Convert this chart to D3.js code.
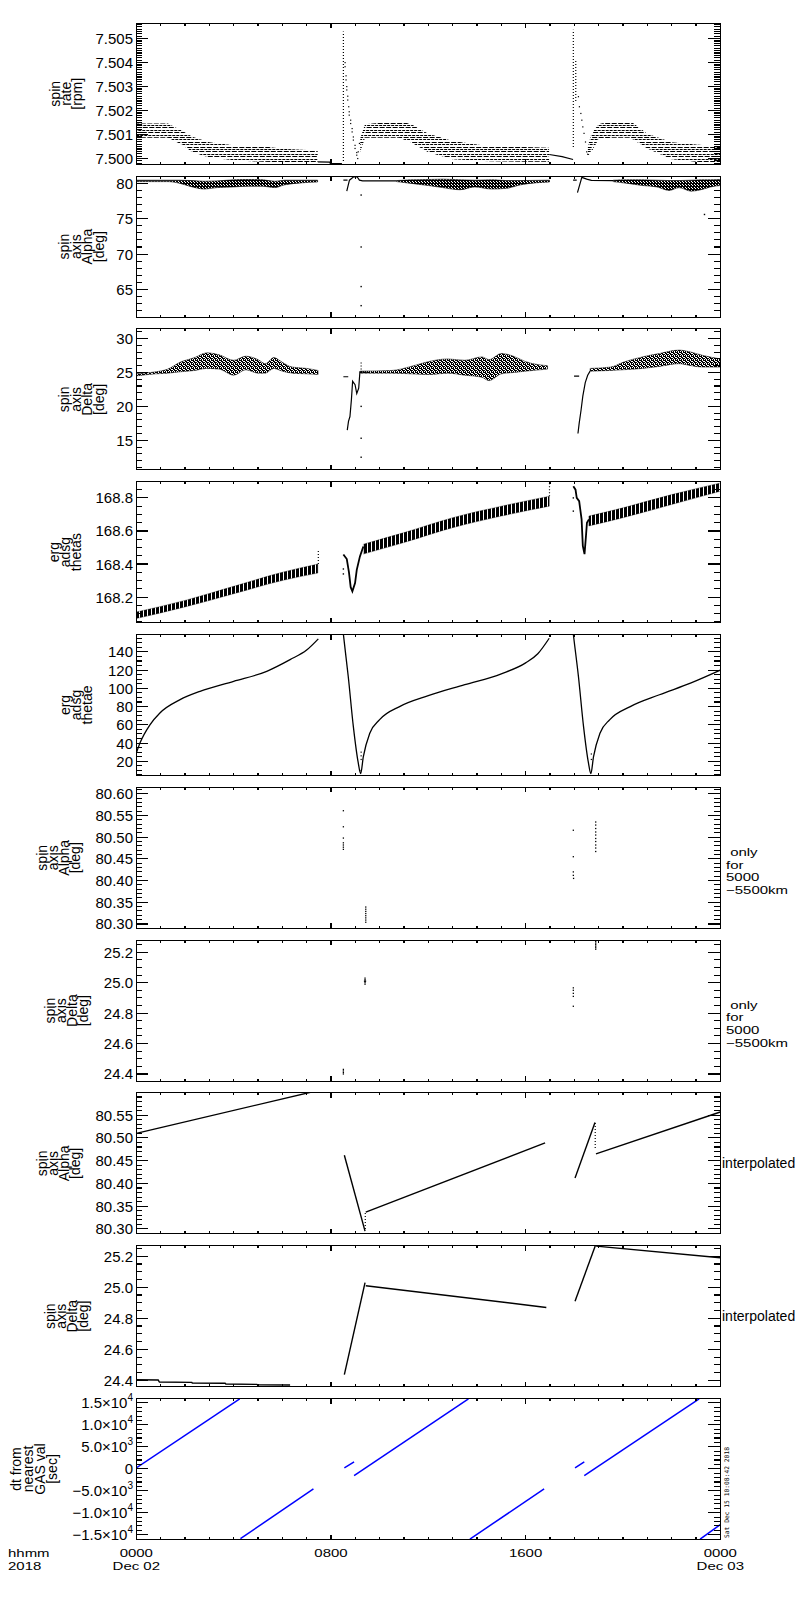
<!DOCTYPE html>
<html><head><meta charset="utf-8">
<script src="https://cdn.jsdelivr.net/npm/d3@7"></script>
<style>body{margin:0;background:#fff} text{font-family:"Liberation Sans",Arial,sans-serif;fill:#000}</style>
</head><body>
<svg id="c" width="800" height="1600" xmlns="http://www.w3.org/2000/svg"></svg>
<script>
// ---------------- DATA (hours since 2018-12-02 00:00) ----------------
const xMajorHours = [0, 8, 16, 24];
const xMajorLabels = ["0000", "0800", "1600", "0000"];
const xDateLabels = ["Dec 02", "", "", "Dec 03"];
const xHourTicks = d3.range(0, 25);

const yTitles = [
  ["spin","rate","[rpm]"],
  ["spin","axis","Alpha","[deg]"],
  ["spin","axis","Delta","[deg]"],
  ["erg","adsg","thetas"],
  ["erg","adsg","thetae"],
  ["spin","axis","Alpha","[deg]"],
  ["spin","axis","Delta","[deg]"],
  ["spin","axis","Alpha","[deg]"],
  ["spin","axis","Delta","[deg]"],
  ["dt from","nearest","GAS val","[sec]"]
];
const rightNotes = [null, null, null, null, null,
  [" only","for","5000","\u22125500km"],
  [" only","for","5000","\u22125500km"],
  ["interpolated"], ["interpolated"], null];
const stampText = "Sat Dec 15 10:08:42 2018";

// Panel 1: spin rate [rpm]  (bands: [hour, low, high])
const rateDomain = [7.49976, 7.50564];
const rateBandA = [[0,7.50090,7.50143],[1.3,7.50090,7.50143],[1.9,7.50060,7.50112],[2.3,7.50030,7.50088],[3.0,7.50008,7.50065],[4.0,7.49996,7.50052],[5.2,7.49990,7.50048],[6.0,7.49988,7.50038],[7.0,7.49986,7.50032],[7.46,7.49986,7.50032]];
const rateLineB = [[7.46,7.49986],[7.95,7.49985],[7.97,7.49980],[8.45,7.49979]];
const rateSpike1Col = [8.51, 7.49990, 7.50530];
const rateSpike1Dots = [[8.58,7.50383],[8.58,7.50400],[8.62,7.50328],[8.62,7.50345],[8.65,7.50286],[8.65,7.50300],[8.69,7.50244],[8.69,7.50260],[8.73,7.50216],[8.75,7.50181],[8.75,7.50195],[8.81,7.50146],[8.81,7.50160],[8.87,7.50111],[8.87,7.50125],[8.92,7.50077],[8.92,7.50090],[8.99,7.50042],[8.99,7.50055],[9.06,7.50014],[9.06,7.50025],[9.10,7.50000],[9.12,7.50028],[9.17,7.50063]];
const rateBandC = [[9.2,7.50030,7.50080],[9.4,7.50090,7.50140],[10.8,7.50090,7.50153],[11.3,7.50070,7.50140],[12.0,7.50030,7.50100],[13.0,7.50000,7.50070],[14.5,7.49992,7.50048],[16.0,7.49990,7.50045],[16.97,7.49990,7.50042]];
const rateLineD = [[16.97,7.50017],[17.5,7.50008],[17.95,7.49996]];
const rateSpike2Col = [17.96, 7.50048, 7.50537];
const rateSpike2Col2 = [18.06, 7.50240, 7.50411];
const rateSpike2Dots = [[18.17,7.50258],[18.21,7.50216],[18.27,7.50188],[18.31,7.50160],[18.35,7.50132],[18.40,7.50105],[18.46,7.50069],[18.51,7.50028],[18.55,7.50018]];
const rateBandE = [[18.55,7.50015,7.50045],[18.7,7.50030,7.50100],[19.0,7.50085,7.50140],[19.5,7.50090,7.50153],[20.3,7.50090,7.50153],[21.0,7.50045,7.50100],[22.0,7.50000,7.50065],[23.0,7.49990,7.50055],[24.0,7.49984,7.50048]];
const rateLevels = d3.range(74998, 75016).map(k => k / 10000);

// Panel 2: spin axis Alpha [deg]
const alphaDomain = [61.08, 81.03];
const alphaBandA = [[0,80.25,80.45],[1.3,80.25,80.45],[1.8,80.0,80.45],[2.3,79.5,80.4],[2.8,79.2,80.3],[3.3,79.4,80.35],[4.0,79.5,80.5],[4.6,79.6,80.55],[5.2,79.6,80.5],[5.7,79.4,80.3],[6.1,79.8,80.45],[7.45,80.2,80.45]];
const alphaE1Dash = [[8.51,80.47],[8.68,80.47]];
const alphaE1Line = [[8.65,78.9],[8.76,80.45],[8.92,80.9],[9.08,80.9],[9.17,80.45],[9.3,80.35],[10.7,80.35]];
const alphaE1Dots = [[9.24,78.35],[9.24,71.0],[9.24,65.4],[9.24,62.7]];
const alphaBandC = [[10.7,80.25,80.4],[11.3,80.0,80.5],[12.0,79.7,80.55],[12.6,79.4,80.6],[13.3,79.1,80.5],[13.9,79.5,80.45],[14.6,79.2,80.5],[15.2,79.3,80.4],[15.8,79.8,80.4],[16.98,80.2,80.45]];
const alphaE2Dash = [[17.95,80.45],[18.1,80.45]];
const alphaE2Line = [[18.13,78.7],[18.31,80.85],[18.51,80.6],[18.7,80.42],[19.6,80.4]];
const alphaBandE = [[19.6,80.25,80.45],[20.2,80.0,80.5],[20.8,79.7,80.5],[21.4,79.5,80.45],[21.9,79.0,80.4],[22.3,79.4,80.4],[22.8,78.9,80.45],[23.2,79.1,80.5],[23.6,79.5,80.5],[24,79.7,80.55]];
const alphaStray = [[23.35,75.6]];

// Panel 3: spin axis Delta [deg]
const deltaDomain = [10.63, 31.43];
const deltaBandA = [[0,24.5,24.8],[0.8,24.8,25.1],[1.3,24.9,25.5],[1.8,25.1,26.5],[2.4,25.3,27.2],[2.9,25.6,27.9],[3.4,25.5,27.6],[4.0,24.6,26.8],[4.5,25.4,27.4],[5.0,24.9,26.9],[5.3,24.9,26.3],[5.65,25.6,27.2],[6.0,25.2,26.5],[6.4,24.9,25.8],[7.0,24.8,25.6],[7.47,24.7,25.3]];
const deltaE1Dash = [[8.51,24.37],[8.71,24.37]];
const deltaE1Line = [[8.67,16.5],[8.72,17.8],[8.78,18.5],[8.84,21.0],[8.89,23.7],[8.99,23.2],[9.06,21.9],[9.14,22.7],[9.19,25.1],[9.6,25.0]];
const deltaE1Col = [9.24, 25.0, 26.7];
const deltaE1Dots = [[9.24,20.0],[9.24,15.3],[9.24,12.5]];
const deltaBandC = [[9.2,24.9,25.2],[10.5,24.9,25.3],[11.3,24.8,25.9],[12.0,24.7,26.6],[12.8,24.9,27.0],[13.5,24.6,26.8],[14.2,24.3,27.3],[14.5,23.8,26.9],[15.0,24.8,27.8],[15.5,25.0,27.4],[16.0,25.2,26.6],[16.9,25.5,26.0]];
const deltaE2Dash = [[17.99,24.45],[18.2,24.45]];
const deltaE2Line = [[18.15,16.0],[18.2,17.5],[18.28,19.5],[18.35,21.5],[18.45,23.5],[18.55,24.6],[18.65,25.2]];
const deltaBandE = [[18.65,25.2,25.6],[19.5,25.3,25.8],[20.0,25.4,26.5],[20.8,25.6,27.3],[21.5,25.9,27.8],[22.3,26.3,28.3],[22.8,26.0,28.0],[23.3,25.8,27.5],[24.0,25.8,27.0]];

// Panel 4: erg adsg thetas
const thetasDomain = [168.045, 168.898];
const thetasBandA = [[0,168.07,168.11],[2,168.14,168.18],[4,168.22,168.265],[6,168.30,168.35],[7.46,168.345,168.40]];
const thetasCol1 = [7.48, 168.40, 168.49];
const thetasE1Line = [[8.51,168.458],[8.65,168.43],[8.74,168.35],[8.81,168.26],[8.88,168.235],[8.99,168.285],[9.06,168.365],[9.19,168.446],[9.33,168.506]];
const thetasE1Dots = [[8.51,168.37],[8.51,168.34]];
const thetasBandC = [[9.33,168.46,168.52],[11,168.53,168.59],[13,168.62,168.68],[15,168.69,168.75],[16.97,168.75,168.81]];
const thetasCol2 = [16.98, 168.81, 168.89];
const thetasE2Line = [[17.96,168.87],[18.05,168.85],[18.1,168.80],[18.2,168.78],[18.3,168.67],[18.35,168.51],[18.42,168.46],[18.48,168.57],[18.52,168.65],[18.6,168.67]];
const thetasE2Dots = [[17.96,168.80],[17.96,168.72]];
const thetasBandE = [[18.6,168.63,168.69],[20,168.68,168.74],[22,168.76,168.82],[24,168.84,168.89]];

// Panel 5: erg adsg thetae
const thetaeDomain = [4.4, 159.1];
const thetaeSeg1 = [[0,29],[0.15,40],[0.56,60],[0.97,73],[1.8,87.6],[2.62,96.8],[4.0,107.7],[5.36,118.7],[6.32,131.5],[7.0,142],[7.48,154.3]];
const thetaeSeg2 = [[8.51,159.5],[8.52,157],[8.71,113],[8.92,58],[9.12,18.4],[9.22,6.4],[9.33,25],[9.6,51],[10.0,65.7],[10.84,80.3],[12.0,92],[13.5,104],[15.0,116],[16.0,128],[16.5,138],[16.97,155]];
const thetaeSeg3 = [[17.96,159.5],[17.98,155],[18.17,113],[18.38,58],[18.58,18.4],[18.68,6.4],[18.79,25],[19.06,51],[19.46,65.7],[20.3,80],[21.5,93],[22.8,106],[24,120]];
const thetaeDots = [[9.24,30],[9.24,26],[9.24,22],[9.24,10],[18.70,28],[18.70,22]];

// Panel 6: spin axis Alpha, only for 5000-5500 km
const alphaSelDomain = [80.290, 80.615];
const alphaSelDots = [[8.51,80.561],[8.51,80.524],[8.51,80.498],[8.51,80.487],[8.51,80.482],[8.51,80.477],[8.51,80.472],
  [9.43,80.339],[9.43,80.334],[9.43,80.329],[9.43,80.324],[9.43,80.319],[9.43,80.314],[9.43,80.309],[9.43,80.304],
  [17.96,80.516],[17.96,80.455],[17.96,80.420],[17.96,80.412],[17.97,80.405],
  [18.88,80.535],[18.88,80.528],[18.88,80.520],[18.88,80.512],[18.88,80.505],[18.88,80.497],[18.88,80.490],[18.88,80.482],[18.88,80.475],[18.88,80.467]];

// Panel 7: spin axis Delta, only for 5000-5500 km
const deltaSelDomain = [24.353, 25.280];
const deltaSelDots = [[8.51,24.43],[8.51,24.42],[8.51,24.41],[8.51,24.40],
  [9.40,25.03],[9.40,25.02],[9.40,25.01],[9.40,25.00],[9.40,24.99],[9.38,25.01],[9.42,25.01],
  [17.96,24.966],[17.96,24.95],[17.96,24.93],[17.96,24.91],[17.96,24.845],
  [18.88,25.27],[18.88,25.26],[18.88,25.25],[18.88,25.24],[18.88,25.23],[18.88,25.22]];

// Panel 8: interpolated Alpha
const alphaIntDomain = [80.289, 80.599];
const alphaIntSegs = [
  [[0,80.510],[7.45,80.604]],
  [[8.55,80.462],[9.40,80.295]],
  [[9.43,80.337],[16.80,80.489]],
  [[18.03,80.412],[18.85,80.534]],
  [[18.89,80.465],[24,80.557]]
];
const alphaIntCols = [[9.41,80.30,80.337],[18.86,80.478,80.534]];

// Panel 9: interpolated Delta
const deltaIntDomain = [24.359, 25.268];
const deltaIntSegs = [
  [[0,24.404],[0.9,24.402],[0.95,24.389],[2.28,24.387],[2.3,24.383],[3.65,24.381],[3.68,24.376],[4.95,24.374],[4.98,24.372],[6.32,24.370]],
  [[8.55,24.437],[9.40,25.03]],
  [[9.43,25.010],[16.85,24.87]],
  [[18.03,24.91],[18.88,25.275]],
  [[18.9,25.265],[24,25.19]]
];

// Panel 10: dt from nearest GAS val [sec]
const dtDomain = [-16100, 16000];
const dtSegs = [
  [[0,200],[4.25,15900]],
  [[4.28,-15900],[7.28,-4600]],
  [[8.55,200],[8.95,1570]],
  [[8.95,-1550],[13.65,15900]],
  [[13.71,-16000],[16.76,-4600]],
  [[18.03,200],[18.41,1570]],
  [[18.41,-1550],[23.13,15900]],
  [[23.17,-16000],[24,-12700]]
];

// ---------------- LAYOUT ----------------
const X0 = 136.3, X1 = 720.3, TOP0 = 23.3, PITCH = 152.8, PH = 141;
const svg = d3.select("#c");
const defs = svg.append("defs");
const x = d3.scaleLinear().domain([0, 24]).range([X0, X1]);

function ticksFor(domain, step) {
  const lo = Math.ceil(domain[0] / step - 1e-6), hi = Math.floor(domain[1] / step + 1e-6);
  return d3.range(lo, hi + 1).map(k => k * step);
}
function drawLine(g, y, pts, color, w, curve) {
  const ln = d3.line().x(d => x(d[0])).y(d => y(d[1]));
  if (curve) ln.curve(curve);
  g.append("path").attr("d", ln(pts))
    .attr("fill", "none").attr("stroke", color || "#000").attr("stroke-width", w || 1.2);
}
function drawBand(g, y, b, fill, sw) {
  g.append("path").attr("d", d3.area().x(d => x(d[0])).y0(d => y(d[1])).y1(d => y(d[2])).curve(d3.curveMonotoneX)(b))
    .attr("fill", fill || "#000").attr("stroke", "#000").attr("stroke-width", sw == null ? 0.8 : sw);
}
function drawDots(g, y, pts, s) {
  s = s || 1.4;
  g.selectAll(null).data(pts).enter().append("rect")
    .attr("x", d => x(d[0]) - s / 2).attr("y", d => y(d[1]) - s / 2)
    .attr("width", s).attr("height", s).attr("fill", "#000");
}
function drawColumn(g, y, c, dash) {
  g.append("line").attr("x1", x(c[0])).attr("x2", x(c[0])).attr("y1", y(c[1])).attr("y2", y(c[2]))
    .attr("stroke", "#000").attr("stroke-width", 1.2).attr("stroke-dasharray", dash || "1,2");
}
let clipN = 0;
function drawDashBand(g, y, b, levels) {
  const id = "db" + (clipN++);
  defs.append("clipPath").attr("id", id).append("path")
    .attr("d", d3.area().x(d => x(d[0])).y0(d => y(d[1]) + 0.8).y1(d => y(d[2]) - 0.8)(b));
  const gg = g.append("g").attr("clip-path", `url(#${id})`);
  levels.forEach((v, k) => {
    gg.append("line").attr("x1", x(b[0][0])).attr("x2", x(b[b.length - 1][0]))
      .attr("y1", Math.round(y(v)) + 0.5).attr("y2", Math.round(y(v)) + 0.5)
      .attr("stroke", "#000").attr("stroke-width", 1)
      .attr("stroke-dasharray", k % 2 ? "5,1.5" : "3,1")
      .attr("stroke-dashoffset", k % 3);
  });
}
function fmtDt(v) {
  if (Math.abs(v) < 1e-9) return { m: "0", e: null };
  const e = Math.floor(Math.log10(Math.abs(v)) + 1e-9);
  const m = (v / Math.pow(10, e)).toFixed(1).replace("-", "\u2212");
  return { m: m + "\u00d710", e: String(e) };
}
function wideText(sel, s, size, stretch) {
  const t = sel.append("text").attr("font-size", size).style("white-space", "pre").text(s);
  const w = t.node().getComputedTextLength();
  t.attr("textLength", w * stretch).attr("lengthAdjust", "spacingAndGlyphs");
  return t;
}

const panels = [
  { domain: rateDomain, major: 0.001, minor: 0.0001, fmt: d3.format(".3f"), tx: 60, ts: 11,
    draw: (g, y) => {
      [rateBandA, rateBandC, rateBandE].forEach(b => drawDashBand(g, y, b, rateLevels));
      drawLine(g, y, rateLineB); drawLine(g, y, rateLineD);
      drawColumn(g, y, rateSpike1Col); drawColumn(g, y, rateSpike2Col); drawColumn(g, y, rateSpike2Col2);
      drawDots(g, y, rateSpike1Dots, 1.2); drawDots(g, y, rateSpike2Dots, 1.2);
    } },
  { domain: alphaDomain, major: 5, minor: 1, fmt: d3.format("d"), tx: 69, ts: 11.5,
    draw: (g, y) => {
      [alphaBandA, alphaBandC, alphaBandE].forEach(b => drawBand(g, y, b, "url(#dense)", 0.6));
      drawLine(g, y, alphaE1Dash); drawLine(g, y, alphaE1Line); drawLine(g, y, alphaE2Dash); drawLine(g, y, alphaE2Line);
      drawDots(g, y, alphaE1Dots); drawDots(g, y, alphaStray);
    } },
  { domain: deltaDomain, major: 5, minor: 1, fmt: d3.format("d"), tx: 69, ts: 11.5,
    draw: (g, y) => {
      [deltaBandA, deltaBandC, deltaBandE].forEach(b => drawBand(g, y, b, "url(#speck)", 0.5));
      drawLine(g, y, deltaE1Dash); drawLine(g, y, deltaE1Line); drawLine(g, y, deltaE2Dash); drawLine(g, y, deltaE2Line);
      drawColumn(g, y, deltaE1Col); drawDots(g, y, deltaE1Dots);
    } },
  { domain: thetasDomain, major: 0.2, minor: 0.05, fmt: d3.format(".1f"), tx: 59, ts: 11,
    draw: (g, y) => {
      [thetasBandA, thetasBandC, thetasBandE].forEach(b => drawBand(g, y, b, "url(#saw)", 0.3));
      drawColumn(g, y, thetasCol1); drawColumn(g, y, thetasCol2);
      drawLine(g, y, thetasE1Line, "#000", 1.8); drawLine(g, y, thetasE2Line, "#000", 1.8);
      drawDots(g, y, thetasE1Dots); drawDots(g, y, thetasE2Dots);
    } },
  { domain: thetaeDomain, major: 20, minor: 5, fmt: d3.format("d"), tx: 70, ts: 11,
    draw: (g, y) => {
      [thetaeSeg1, thetaeSeg2, thetaeSeg3].forEach(s => drawLine(g, y, s, "#000", 1.3, d3.curveMonotoneX));
      drawDots(g, y, thetaeDots, 1.2);
    } },
  { domain: alphaSelDomain, major: 0.05, minor: 0.01, fmt: d3.format(".2f"), tx: 47, ts: 11,
    draw: (g, y) => drawDots(g, y, alphaSelDots, 1.3) },
  { domain: deltaSelDomain, major: 0.2, minor: 0.05, fmt: d3.format(".1f"), tx: 55, ts: 11,
    draw: (g, y) => drawDots(g, y, deltaSelDots, 1.3) },
  { domain: alphaIntDomain, major: 0.05, minor: 0.01, fmt: d3.format(".2f"), tx: 47, ts: 11,
    draw: (g, y) => { alphaIntSegs.forEach(s => drawLine(g, y, s, "#000", 1.4)); alphaIntCols.forEach(c => drawColumn(g, y, c)); } },
  { domain: deltaIntDomain, major: 0.2, minor: 0.05, fmt: d3.format(".1f"), tx: 55, ts: 11,
    draw: (g, y) => deltaIntSegs.forEach(s => drawLine(g, y, s, "#000", 1.4)) },
  { domain: dtDomain, major: 5000, minor: 1000, fmt: null, tx: 21, ts: 12,
    draw: (g, y) => dtSegs.forEach(s => drawLine(g, y, s, "#0000ff", 1.5)) }
];

function makePattern(id, w, h, cells) {
  const p = defs.append("pattern").attr("id", id).attr("width", w).attr("height", h).attr("patternUnits", "userSpaceOnUse");
  cells.forEach(c => p.append("rect").attr("x", c[0]).attr("y", c[1]).attr("width", c[2] || 1).attr("height", c[3] || 1).attr("fill", "#000"));
}
makePattern("speck", 4, 4, [[0,0],[1,0],[3,0],[1,1],[2,1],[0,2],[2,2],[3,2],[1,3],[3,3]]);
makePattern("dense", 3, 3, [[0,0],[1,0],[2,0],[0,1],[2,1],[0,2],[1,2]]);
makePattern("saw", 4, 2, [[0,0,3,2]]);

panels.forEach((p, i) => {
  const top = TOP0 + i * PITCH, bot = top + PH;
  const y = d3.scaleLinear().domain(p.domain).range([bot, top]);
  defs.append("clipPath").attr("id", "cp" + i).append("rect")
    .attr("x", X0).attr("y", top).attr("width", X1 - X0).attr("height", PH);
  const g = svg.append("g");
  const dg = g.append("g").attr("clip-path", `url(#cp${i})`);
  p.draw(dg, y);

  const ax = g.append("g").attr("stroke", "#000").attr("stroke-width", 1.1).attr("shape-rendering", "crispEdges");
  ax.append("rect").attr("x", X0).attr("y", top).attr("width", X1 - X0).attr("height", PH).attr("fill", "none");
  ticksFor(p.domain, p.minor).forEach(v => {
    const yy = y(v);
    ax.append("line").attr("x1", X0).attr("x2", X0 + 6).attr("y1", yy).attr("y2", yy);
    ax.append("line").attr("x1", X1).attr("x2", X1 - 6).attr("y1", yy).attr("y2", yy);
  });
  ticksFor(p.domain, p.major).forEach(v => {
    const yy = y(v);
    ax.append("line").attr("x1", X0).attr("x2", X0 + 12).attr("y1", yy).attr("y2", yy);
    ax.append("line").attr("x1", X1).attr("x2", X1 - 12).attr("y1", yy).attr("y2", yy);
    const t = g.append("text").attr("x", 133).attr("y", yy + 5.5).attr("text-anchor", "end").attr("font-size", 15);
    if (p.fmt) t.text(p.fmt(v));
    else {
      const f = fmtDt(v);
      t.append("tspan").text(f.m);
      if (f.e) t.append("tspan").attr("dy", -7).attr("font-size", 10).text(f.e);
    }
  });
  xHourTicks.forEach(h => {
    const L = xMajorHours.includes(h) ? 5 : 2.5, xx = x(h);
    ax.append("line").attr("x1", xx).attr("x2", xx).attr("y1", bot).attr("y2", bot - L);
    ax.append("line").attr("x1", xx).attr("x2", xx).attr("y1", top).attr("y2", top + L);
  });
  const cy = top + PH / 2;
  yTitles[i].forEach((s, k) => {
    const bx = p.tx + k * p.ts;
    g.append("text").attr("transform", `translate(${bx},${cy}) rotate(-90)`)
      .attr("text-anchor", "middle").attr("font-size", 14).text(s);
  });
  const rn = rightNotes[i];
  if (rn) {
    if (rn.length === 1) {
      g.append("text").attr("x", 722).attr("y", cy + 5).attr("font-size", 14).text(rn[0]);
    } else {
      rn.forEach((s, k) => wideText(g, s, 11, 1.36).attr("x", 726).attr("y", cy - 2 + 12.7 * k));
    }
  }
});

const xb = 1557;
xMajorHours.forEach((h, k) => {
  wideText(svg, xMajorLabels[k], 11, 1.36).attr("x", x(h)).attr("y", xb).attr("text-anchor", "middle");
  if (xDateLabels[k]) wideText(svg, xDateLabels[k], 11, 1.36).attr("x", x(h)).attr("y", xb + 12.7).attr("text-anchor", "middle");
});
wideText(svg, "hhmm", 11, 1.36).attr("x", 8).attr("y", xb);
wideText(svg, "2018", 11, 1.36).attr("x", 8).attr("y", xb + 12.7);
svg.append("text").attr("transform", "translate(729,1538) rotate(-90)")
  .attr("font-size", 6.3).style("font-family", "'DejaVu Sans Mono',monospace").text(stampText);
</script>
</body></html>
